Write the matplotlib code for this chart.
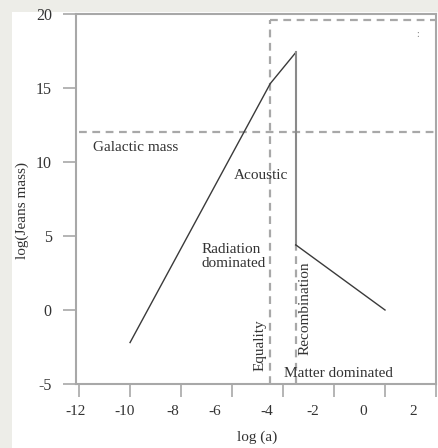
import matplotlib.pyplot as plt
from matplotlib.patches import Rectangle

plt.rcParams['font.family'] = ['Liberation Serif', 'DejaVu Serif']
plt.rcParams['axes.unicode_minus'] = False

# Jeans mass curve (log a, log M_J)
curve_x = [-10, -4.5, -3.5]
curve_y = [-2.2, 15.3, 17.4]
drop_x = [-3.5, -3.5]
drop_y = [17.4, 4.4]
matter_x = [-3.5, 0]
matter_y = [4.4, 0.0]

galactic_mass = 12.0
top_level = 19.6
equality = -4.5
recombination = -3.5

xticks = [-12, -10, -8, -6, -4, -2, 0, 2]
xtick_labels = ['-12', '-10', '-8', '-6', '-4', '-2', '0', '2']
yticks = [-5, 0, 5, 10, 15, 20]

# the scanned figure has labels drifting from their ticks
xlabel_pos = [-12.12, -10.21, -8.34, -6.67, -4.65, -2.82, -0.87, 1.11]

fig = plt.figure(figsize=(4.39, 4.48), dpi=100)
fig.patch.set_facecolor('#ededE8')
fig.add_artist(Rectangle((12 / 439, 0), 1, (448 - 12) / 448, transform=fig.transFigure,
                         facecolor='white', edgecolor='none', zorder=0))
ax = fig.add_axes([76 / 439, 64 / 448, 360 / 439, 370 / 448])
ax.set_facecolor('white')

gray = '#a8a8a8'
dash = dict(color=gray, lw=1.6, ls=(0, (3.5, 2.5)))
ax.plot([-12, 2], [galactic_mass, galactic_mass], **dash)
ax.plot([equality, 2], [top_level, top_level], **dash)
ax.plot([equality, equality], [-5, top_level], **dash)
ax.plot([recombination, recombination], [-5, drop_y[1]], **dash)

ax.plot(curve_x, curve_y, color='#3a3a3a', lw=1.0)
ax.plot(drop_x, drop_y, color='#8a8a8a', lw=1.5)
ax.plot(matter_x, matter_y, color='#3a3a3a', lw=1.0)

tc = '#333333'
ax.text(-11.45, 10.95, 'Galactic mass', fontsize=11, color=tc, va='center')
ax.text(-5.93, 9.1, 'Acoustic', fontsize=11, color=tc, va='center')
ax.text(-7.2, 3.6, 'Radiation\ndominated', fontsize=11, color=tc, va='center',
        linespacing=1.15)
ax.text(-4.92, -2.36, 'Equality', fontsize=11, color=tc, rotation=90,
        ha='center', va='center')
ax.text(-3.13, 0.14, 'Recombination', fontsize=11, color=tc, rotation=90,
        ha='center', va='center')
ax.text(-3.95, -4.26, 'Matter dominated', fontsize=11, color=tc, va='center')
ax.text(1.27, 18.6, ':', fontsize=7, color='#777777', ha='center', va='center')

ax.set_xlim(-12, 2)
ax.set_ylim(-5, 20)

for s in ax.spines.values():
    s.set_color(gray)
    s.set_linewidth(1.5)

ax.set_xticks(xticks)
ax.set_xticklabels([])
ax.set_xticks(xlabel_pos, minor=True)
ax.set_xticklabels(xtick_labels, minor=True)
ax.tick_params(axis='x', which='major', direction='out', length=9.4, width=1.2,
               color=gray)
ax.tick_params(axis='x', which='minor', length=0, pad=15, labelsize=11,
               labelcolor=tc)
ax.set_yticks(yticks)
ax.tick_params(axis='y', direction='out', length=9.4, width=1.2, color=gray,
               pad=8, labelsize=11.5, labelcolor=tc)

ax.set_xlabel('log (a)', fontsize=11, color=tc)
ax.xaxis.set_label_coords(0.503, -0.127)
ax.set_ylabel('log(Jeans mass)', fontsize=11, color=tc)
ax.yaxis.set_label_coords(-0.13, 0.47)

fig.savefig('out.png', dpi=100, facecolor=fig.get_facecolor())
